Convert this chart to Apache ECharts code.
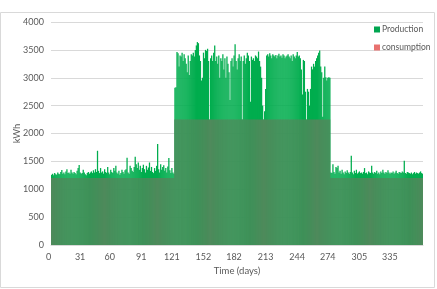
<!DOCTYPE html>
<html>
<head>
<meta charset="utf-8">
<script src="https://cdn.jsdelivr.net/npm/echarts@6/dist/echarts.min.js"></script>
<style>
  html, body { margin: 0; padding: 0; background: #fff; }
  #chart { width: 437px; height: 289px; }
</style>
</head>
<body>
<div id="chart"></div>
<script>
// x-axis labels (day index where each month starts)
const tickDays = [0, 31, 60, 91, 121, 152, 182, 213, 244, 274, 305, 335]

// production, kWh per day
const productionWinter = [
  1260, 1280, 1250, 1290, 1270, 1260, 1300, 1280, 1270, 1310,
  1345, 1280, 1300, 1270, 1320, 1360, 1290, 1300, 1280, 1350,
  1300, 1280, 1310, 1290, 1270, 1330, 1380, 1435, 1300, 1280,
  1290, 1350, 1300, 1270, 1250, 1290, 1310, 1280, 1300, 1320,
  1290, 1340, 1300, 1360, 1310, 1690, 1330, 1290, 1380, 1300,
  1320, 1280, 1360, 1310, 1290, 1400, 1300, 1270, 1350, 1310,
  1290, 1380, 1330, 1420, 1300, 1280, 1330, 1260, 1290, 1350,
  1310, 1280, 1340, 1360, 1565, 1300, 1280, 1420, 1380, 1330,
  1310, 1400, 1585, 1450, 1380, 1480, 1350, 1420, 1310, 1380,
  1440, 1360, 1300, 1420, 1350, 1390, 1480, 1330, 1400, 1310,
  1290, 1380, 1330, 1420, 1810, 1360, 1300, 1450, 1350, 1400,
  1430, 1330, 1380, 1300, 1410, 1560, 1340, 1290, 1380, 1300,
  1280
]
const productionSummer = [
  2820, 2830, 3460, 3440, 3200, 3400, 3380, 3450, 3300, 3420,
  3350, 3250, 3100, 3400, 3050, 3300, 3420, 3400, 3450, 3380,
  3500, 3580, 3640, 3620, 3400, 3300, 2950, 3000, 3450, 3350,
  3500, 3480, 3520, 3300, 2250, 3350, 3400, 3300, 3450, 3580,
  3300, 3380, 3250, 3400, 3000, 3350, 3300, 3420, 3150, 3350,
  3000, 3380, 3250, 3100, 2600, 3300, 3350, 3200, 3400, 3600,
  3300, 3150, 3350, 3420, 3300, 3380, 2250, 3300, 3400, 3250,
  3350, 3450, 3400, 3300, 2570, 3380, 3320, 3350, 3300, 3400,
  3380, 3350, 3470, 3300, 3200, 3000, 2500, 2250, 2400, 2800,
  3400, 3420, 3380, 3440, 3400, 3350, 3420, 3400, 3380, 3410,
  3350, 3400, 3430, 3380, 3400, 3360, 3420, 3400, 3350, 3380,
  3400, 3420, 3380, 3350, 3400, 3300, 3420, 3380, 3350, 3400,
  3460, 3380, 3400, 3350, 3150, 2700, 3320, 3300, 2750, 2250,
  2800, 2750, 2500, 2800, 3200, 3150, 3250, 3200, 3300, 3350,
  3400, 3450, 3490, 3200, 3100, 2300, 3000, 3200, 3010, 2950,
  3000, 3010, 3000
]
const productionAutumn = [
  1300, 1290, 1450, 1310, 1280, 1400, 1380, 1420, 1300, 1330,
  1280, 1350, 1300, 1270, 1320, 1290, 1340, 1300, 1280, 1310,
  1600, 1300, 1270, 1330, 1290, 1350, 1280, 1300, 1320, 1290,
  1300, 1280, 1310, 1380, 1290, 1300, 1270, 1320, 1300, 1290,
  1420, 1300, 1280, 1310, 1290, 1330, 1280, 1300, 1270, 1320,
  1290, 1350, 1300, 1280, 1310, 1290, 1340, 1300, 1280, 1300,
  1290, 1320, 1280, 1300, 1330, 1290, 1280, 1310, 1300, 1290,
  1320, 1300, 1510, 1290, 1280, 1310, 1300, 1290, 1280, 1300,
  1270, 1290, 1310, 1280, 1300, 1290, 1280, 1300, 1320, 1290,
  1280
]

// consumption is flat within each period
const consumptionLevels = [1200, 2250, 1200]

const production = productionWinter.concat(productionSummer, productionAutumn)
const consumption = []
const periods = [productionWinter, productionSummer, productionAutumn]
periods.forEach((p, i) => p.forEach(() => consumption.push(consumptionLevels[i])))
const days = production.map((_, i) => String(i))

const chart = echarts.init(document.getElementById("chart"))
const font = "Lato, 'Open Sans', sans-serif"
const grey = "#595959"

chart.setOption({
  animation: false,
  textStyle: { fontFamily: font },
  graphic: [
    {
      type: "rect",
      shape: { x: 0.5, y: 12.5, width: 434, height: 275 },
      style: { fill: "none", stroke: "#d9d9d9", lineWidth: 1 },
      silent: true,
    },
  ],
  legend: {
    orient: "vertical",
    left: 369,
    top: 20,
    itemWidth: 6,
    itemHeight: 6,
    itemGap: 9,
    icon: "rect",
    textStyle: { color: grey, fontSize: 8.5, fontFamily: font, padding: [0, 0, 0, -3] },
    data: [
      { name: "Production", itemStyle: { color: "#00a550" } },
      { name: "consumption", itemStyle: { color: "#e8716f" } },
    ],
  },
  grid: { left: 51, right: 14, top: 22, bottom: 44, outerBoundsMode: "none" },
  xAxis: {
    type: "category",
    data: days,
    name: "Time (days)",
    nameLocation: "middle",
    nameGap: 21,
    nameMoveOverlap: false,
    nameTextStyle: { color: grey, fontSize: 9.5, fontFamily: font },
    axisTick: { show: false },
    axisLine: { lineStyle: { color: "#d9d9d9" } },
    axisLabel: {
      color: grey,
      fontSize: 9,
      margin: 8,
      padding: [0, 6, 0, 0],
      interval: (index) => tickDays.includes(index),
    },
  },
  yAxis: {
    type: "value",
    min: 0,
    max: 4000,
    interval: 500,
    name: "kWh",
    nameLocation: "middle",
    nameGap: 29,
    nameMoveOverlap: false,
    nameTextStyle: { color: grey, fontSize: 9.5, fontFamily: font },
    axisLine: { show: false },
    axisTick: { show: false },
    axisLabel: { color: grey, fontSize: 9, margin: 7, formatter: (v) => String(v) },
    splitLine: { lineStyle: { color: "#d9d9d9" } },
  },
  series: [
    {
      name: "Production",
      type: "bar",
      data: production,
      barWidth: "125%",
      barGap: "-100%",
      itemStyle: { color: "#00ad4e" },
    },
    {
      name: "consumption",
      type: "bar",
      data: consumption,
      barWidth: "70%",
      itemStyle: { color: "#4f8a5c" },
    },
  ],
})
</script>
</body>
</html>
